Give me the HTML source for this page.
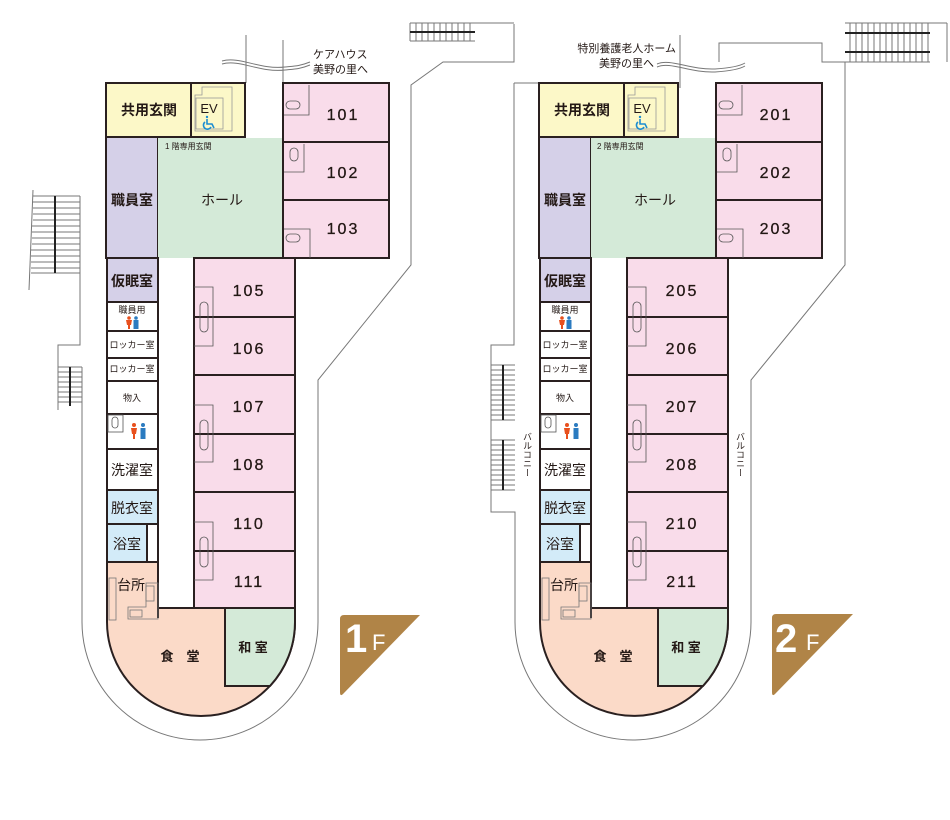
<!DOCTYPE html>
<html><head><meta charset="utf-8"><style>
html,body{margin:0;padding:0;background:#fff;}
svg{display:block;}
text{font-family:"Liberation Sans","Noto Sans CJK JP",sans-serif;fill:#231815;}
.rm{font-size:16px;letter-spacing:2px;text-anchor:middle;stroke:#231815;stroke-width:0.3;}
.jp{font-size:14px;font-weight:bold;text-anchor:middle;}
.sm{font-size:9px;text-anchor:middle;}
.o{fill:none;stroke:#777;stroke-width:1;}
.w{stroke:#2a2020;stroke-width:2;}
.st{stroke:#777;stroke-width:1;}
.wc{fill:none;stroke:#1d8ed1;stroke-width:1.6;}
</style></head><body>
<svg width="950" height="820" viewBox="0 0 950 820" xmlns="http://www.w3.org/2000/svg">

<!-- ========== 1F ========== -->
<g>
<path class="o" d="M33,190 L29,290"/>
<path class="o" d="M80,196 V345 H58 V410"/>
<g class="st">
<line x1="33" y1="196" x2="80" y2="196"/><line x1="33" y1="202" x2="80" y2="202"/><line x1="33" y1="208" x2="80" y2="208"/><line x1="33" y1="214" x2="80" y2="214"/><line x1="33" y1="220" x2="80" y2="220"/><line x1="32" y1="226" x2="80" y2="226"/><line x1="32" y1="232" x2="80" y2="232"/><line x1="32" y1="238" x2="80" y2="238"/><line x1="32" y1="244" x2="80" y2="244"/><line x1="31" y1="250" x2="80" y2="250"/><line x1="31" y1="256" x2="80" y2="256"/><line x1="31" y1="262" x2="80" y2="262"/><line x1="31" y1="268" x2="80" y2="268"/><line x1="31" y1="273" x2="80" y2="273"/>
<line x1="58" y1="367" x2="82" y2="367"/><line x1="58" y1="372" x2="82" y2="372"/><line x1="58" y1="377" x2="82" y2="377"/><line x1="58" y1="382" x2="82" y2="382"/><line x1="58" y1="387" x2="82" y2="387"/><line x1="58" y1="392" x2="82" y2="392"/><line x1="58" y1="397" x2="82" y2="397"/><line x1="58" y1="402" x2="82" y2="402"/>
</g>
<line x1="55" y1="196" x2="55" y2="273" stroke="#222" stroke-width="2"/>
<line x1="70" y1="367" x2="70" y2="406" stroke="#222" stroke-width="2"/>
<path class="o" d="M82,367 V622 A118,118 0 0 0 318,622 V380 L411,265 V85 L443,62 H514 V24"/>
<g class="st">
<line x1="410" y1="23" x2="475" y2="23"/><line x1="410" y1="41" x2="475" y2="41"/>
<line x1="410" y1="23" x2="410" y2="41"/><line x1="416" y1="23" x2="416" y2="41"/><line x1="422" y1="23" x2="422" y2="41"/><line x1="428" y1="23" x2="428" y2="41"/><line x1="434" y1="23" x2="434" y2="41"/><line x1="440" y1="23" x2="440" y2="41"/><line x1="446" y1="23" x2="446" y2="41"/><line x1="452" y1="23" x2="452" y2="41"/><line x1="458" y1="23" x2="458" y2="41"/><line x1="464" y1="23" x2="464" y2="41"/><line x1="470" y1="23" x2="470" y2="41"/><line x1="475" y1="23" x2="514" y2="23"/>
</g>
<line x1="410" y1="32" x2="475" y2="32" stroke="#222" stroke-width="2"/>
<line class="o" x1="246" y1="35" x2="246" y2="83"/>
<line class="o" x1="283" y1="40" x2="283" y2="83"/>
<path class="o" d="M222,61 C240,56 260,70 285,67 C295,66 300,66 310,62"/>
<path class="o" d="M222,64 C240,59 260,73 285,70 C295,69 300,69 310,65"/>
<text x="313" y="58" style="font-size:11px">ケアハウス</text>
<text x="313" y="73" style="font-size:11px">美野の里へ</text>

<rect x="106" y="83" width="85" height="54" fill="#fcf8c8" class="w"/>
<rect x="191" y="83" width="54" height="54" fill="#fcf8c8" class="w"/>
<path d="M202,87 H232 V131 H195 V95 H202 Z" fill="none" stroke="#999" stroke-width="0.8"/>
<rect x="196" y="98" width="27" height="31" fill="none" stroke="#999" stroke-width="0.8"/>
<text x="209" y="113" style="font-size:13px;text-anchor:middle">EV</text>
<g class="wc"><circle cx="207" cy="117" r="1.2" fill="#1d8ed1" stroke="none"/><path d="M207,119 V124 H212 L214,128"/><path d="M205,122 A4,4 0 1 0 211,127"/></g>
<text class="jp" x="149" y="115">共用玄関</text>
<rect x="106" y="137" width="52" height="121" fill="#d5d0e8" class="w"/>
<text class="jp" x="132" y="205">職員室</text>
<rect x="158" y="138" width="125" height="120" fill="#d4ead8"/>
<text x="165" y="149" style="font-size:8px">1 階専用玄関</text>
<text class="jp" x="222" y="205" style="font-weight:normal">ホール</text>
<g fill="#f9dcea" class="w">
<rect x="283" y="83" width="106" height="59"/><rect x="283" y="142" width="106" height="58"/><rect x="283" y="200" width="106" height="58"/>
</g>
<g fill="none" stroke="#555" stroke-width="0.8"><path d="M284,115 H309 V85"/><path d="M284,172 H304 V144"/><path d="M284,229 H310 V258"/>
<rect x="286" y="101" width="14" height="8" rx="4"/><rect x="290" y="148" width="8" height="13" rx="4"/><rect x="286" y="234" width="14" height="8" rx="4"/></g>
<text class="rm" x="343" y="120">101</text><text class="rm" x="343" y="178">102</text><text class="rm" x="343" y="234">103</text>

<g fill="#f9dcea" class="w">
<rect x="194" y="258" width="101" height="59"/><rect x="194" y="317" width="101" height="58"/><rect x="194" y="375" width="101" height="59"/><rect x="194" y="434" width="101" height="58"/><rect x="194" y="492" width="101" height="59"/><rect x="194" y="551" width="101" height="57"/>
</g>
<g fill="none" stroke="#555" stroke-width="0.8"><path d="M194,287 H213 V346 H194"/><path d="M194,405 H213 V462 H194"/><path d="M194,522 H213 V580 H194"/>
<rect x="200" y="302" width="8" height="30" rx="4"/><rect x="200" y="420" width="8" height="30" rx="4"/><rect x="200" y="537" width="8" height="30" rx="4"/></g>
<text class="rm" x="249" y="296">105</text><text class="rm" x="249" y="354">106</text><text class="rm" x="249" y="412">107</text><text class="rm" x="249" y="470">108</text><text class="rm" x="249" y="529">110</text><text class="rm" x="249" y="587">111</text>

<rect x="107" y="258" width="51" height="44" fill="#d5d0e8" class="w"/>
<text class="jp" x="132" y="286">仮眠室</text>
<g fill="#fff" class="w">
<rect x="107" y="302" width="51" height="29"/><rect x="107" y="331" width="51" height="27"/><rect x="107" y="358" width="51" height="23"/><rect x="107" y="381" width="51" height="33"/><rect x="107" y="414" width="51" height="35"/><rect x="107" y="449" width="51" height="41"/>
</g>
<text class="sm" x="132" y="313">職員用</text>
<g><circle cx="129" cy="318" r="1.8" fill="#e8501e"/><path d="M126,320 h6 l-1,5 h-1 v4 h-2 v-4 h-1 z" fill="#e8501e"/><circle cx="136" cy="318" r="1.8" fill="#2b7bc0"/><rect x="133.5" y="320" width="5" height="9" fill="#2b7bc0"/></g>
<text class="sm" x="132" y="348">ロッカー室</text>
<text class="sm" x="132" y="372">ロッカー室</text>
<text class="sm" x="132" y="401">物入</text>
<rect x="108" y="415" width="15" height="17" fill="none" stroke="#555" stroke-width="0.8"/><rect x="112" y="417" width="6" height="11" rx="3" fill="none" stroke="#555" stroke-width="0.8"/>
<g><circle cx="134" cy="425" r="2" fill="#e8501e"/><path d="M131,428 h6 l-1,6 h-1 v5 h-2 v-5 h-1 z" fill="#e8501e"/><circle cx="143" cy="425" r="2" fill="#2b7bc0"/><rect x="140.5" y="428" width="5" height="11" fill="#2b7bc0"/></g>
<text class="jp" x="132" y="475" style="font-weight:normal">洗濯室</text>
<rect x="107" y="490" width="51" height="34" fill="#d3ebf8" class="w"/>
<text class="jp" x="132" y="513" style="font-weight:normal">脱衣室</text>
<rect x="107" y="524" width="40" height="38" fill="#d3ebf8" class="w"/>
<rect x="147" y="524" width="11" height="38" fill="#fff" class="w"/>
<text class="jp" x="127" y="549" style="font-weight:normal">浴室</text>
<path d="M107,562 H158 V608 H295 V622 A94,94 0 0 1 107,622 Z" fill="#fbdac8" class="w"/>
<line x1="158" y1="562" x2="158" y2="618" stroke="#2a2020" stroke-width="2"/>
<path d="M225,608 H295 V622 A94,94 0 0 1 270,686 H225 Z" fill="#d4ead8" class="w"/>
<g fill="none" stroke="#777" stroke-width="0.8"><rect x="109" y="578" width="7" height="42"/><path d="M128,619 V607 H146 V583 H158 V619 Z"/><rect x="146" y="586" width="8" height="15"/><rect x="130" y="610" width="12" height="7"/></g>
<text class="jp" x="131" y="590" style="font-weight:normal">台所</text>
<text class="jp" x="180" y="661" style="font-size:13px">食　堂</text>
<text class="jp" x="253" y="652" style="font-size:13px">和 室</text>
<path d="M344,615 H420 L343,694 Q340,697 340,692 V619 Q340,615 344,615 Z" fill="#b08447"/>
<text x="345" y="652" style="font-size:40px;font-weight:bold;fill:#fff">1</text>
<text x="372" y="650" style="font-size:22px;fill:#fff">F</text>
</g>

<!-- ========== 2F ========== -->
<g>
<path class="o" d="M514,83 H539"/>
<path class="o" d="M514,83 V345 H491 V512 H515 V622 A118,118 0 0 0 751,622 V380 L845,265 V62 H822 V43 H719 V62"/>
<g class="st">
<line x1="491" y1="365" x2="515" y2="365"/><line x1="491" y1="370" x2="515" y2="370"/><line x1="491" y1="375" x2="515" y2="375"/><line x1="491" y1="380" x2="515" y2="380"/><line x1="491" y1="385" x2="515" y2="385"/><line x1="491" y1="390" x2="515" y2="390"/><line x1="491" y1="395" x2="515" y2="395"/><line x1="491" y1="400" x2="515" y2="400"/><line x1="491" y1="405" x2="515" y2="405"/><line x1="491" y1="410" x2="515" y2="410"/><line x1="491" y1="415" x2="515" y2="415"/><line x1="491" y1="420" x2="515" y2="420"/>
<line x1="491" y1="440" x2="515" y2="440"/><line x1="491" y1="445" x2="515" y2="445"/><line x1="491" y1="450" x2="515" y2="450"/><line x1="491" y1="455" x2="515" y2="455"/><line x1="491" y1="460" x2="515" y2="460"/><line x1="491" y1="465" x2="515" y2="465"/><line x1="491" y1="470" x2="515" y2="470"/><line x1="491" y1="475" x2="515" y2="475"/><line x1="491" y1="480" x2="515" y2="480"/><line x1="491" y1="485" x2="515" y2="485"/><line x1="491" y1="490" x2="515" y2="490"/>
<line x1="845" y1="23" x2="930" y2="23"/><line x1="845" y1="62" x2="930" y2="62"/><line x1="930" y1="23" x2="947" y2="23"/><line x1="947" y1="23" x2="947" y2="62"/>
</g>
<g class="st">
<line x1="850" y1="23" x2="850" y2="62"/><line x1="856" y1="23" x2="856" y2="62"/><line x1="862" y1="23" x2="862" y2="62"/><line x1="868" y1="23" x2="868" y2="62"/><line x1="874" y1="23" x2="874" y2="62"/><line x1="880" y1="23" x2="880" y2="62"/><line x1="886" y1="23" x2="886" y2="62"/><line x1="892" y1="23" x2="892" y2="62"/><line x1="898" y1="23" x2="898" y2="62"/><line x1="904" y1="23" x2="904" y2="62"/><line x1="910" y1="23" x2="910" y2="62"/><line x1="916" y1="23" x2="916" y2="62"/><line x1="922" y1="23" x2="922" y2="62"/><line x1="928" y1="23" x2="928" y2="62"/>
</g>
<line x1="845" y1="33" x2="930" y2="33" stroke="#222" stroke-width="2"/><line x1="845" y1="52" x2="930" y2="52" stroke="#222" stroke-width="2"/>
<line x1="503" y1="365" x2="503" y2="420" stroke="#222" stroke-width="2"/><line x1="503" y1="440" x2="503" y2="490" stroke="#222" stroke-width="2"/>
<text x="527" y="432" style="font-size:9px;writing-mode:tb">バルコニー</text>
<text x="740" y="432" style="font-size:9px;writing-mode:tb">バルコニー</text>
<line class="o" x1="680" y1="35" x2="680" y2="88"/>
<path class="o" d="M657,64 C670,58 690,70 715,69 C730,68 740,66 745,63"/>
<path class="o" d="M657,67 C670,61 690,73 715,72 C730,71 740,69 745,66"/>
<text x="676" y="52" style="font-size:11px;text-anchor:end">特別養護老人ホーム</text>
<text x="654" y="67" style="font-size:11px;text-anchor:end">美野の里へ</text>

<rect x="539" y="83" width="85" height="54" fill="#fcf8c8" class="w"/>
<rect x="624" y="83" width="54" height="54" fill="#fcf8c8" class="w"/>
<path d="M635,87 H665 V131 H628 V95 H635 Z" fill="none" stroke="#999" stroke-width="0.8"/>
<rect x="629" y="98" width="27" height="31" fill="none" stroke="#999" stroke-width="0.8"/>
<text x="642" y="113" style="font-size:13px;text-anchor:middle">EV</text>
<g class="wc"><circle cx="640" cy="117" r="1.2" fill="#1d8ed1" stroke="none"/><path d="M640,119 V124 H645 L647,128"/><path d="M638,122 A4,4 0 1 0 644,127"/></g>
<text class="jp" x="582" y="115">共用玄関</text>
<rect x="539" y="137" width="52" height="121" fill="#d5d0e8" class="w"/>
<text class="jp" x="565" y="205">職員室</text>
<rect x="591" y="138" width="125" height="120" fill="#d4ead8"/>
<text x="597" y="149" style="font-size:8px">2 階専用玄関</text>
<text class="jp" x="655" y="205" style="font-weight:normal">ホール</text>
<g fill="#f9dcea" class="w">
<rect x="716" y="83" width="106" height="59"/><rect x="716" y="142" width="106" height="58"/><rect x="716" y="200" width="106" height="58"/>
</g>
<g fill="none" stroke="#555" stroke-width="0.8"><path d="M717,115 H742 V85"/><path d="M717,172 H737 V144"/><path d="M717,229 H743 V258"/>
<rect x="719" y="101" width="14" height="8" rx="4"/><rect x="723" y="148" width="8" height="13" rx="4"/><rect x="719" y="234" width="14" height="8" rx="4"/></g>
<text class="rm" x="776" y="120">201</text><text class="rm" x="776" y="178">202</text><text class="rm" x="776" y="234">203</text>

<g fill="#f9dcea" class="w">
<rect x="627" y="258" width="101" height="59"/><rect x="627" y="317" width="101" height="58"/><rect x="627" y="375" width="101" height="59"/><rect x="627" y="434" width="101" height="58"/><rect x="627" y="492" width="101" height="59"/><rect x="627" y="551" width="101" height="57"/>
</g>
<g fill="none" stroke="#555" stroke-width="0.8"><path d="M627,287 H646 V346 H627"/><path d="M627,405 H646 V462 H627"/><path d="M627,522 H646 V580 H627"/>
<rect x="633" y="302" width="8" height="30" rx="4"/><rect x="633" y="420" width="8" height="30" rx="4"/><rect x="633" y="537" width="8" height="30" rx="4"/></g>
<text class="rm" x="682" y="296">205</text><text class="rm" x="682" y="354">206</text><text class="rm" x="682" y="412">207</text><text class="rm" x="682" y="470">208</text><text class="rm" x="682" y="529">210</text><text class="rm" x="682" y="587">211</text>

<rect x="540" y="258" width="51" height="44" fill="#d5d0e8" class="w"/>
<text class="jp" x="565" y="286">仮眠室</text>
<g fill="#fff" class="w">
<rect x="540" y="302" width="51" height="29"/><rect x="540" y="331" width="51" height="27"/><rect x="540" y="358" width="51" height="23"/><rect x="540" y="381" width="51" height="33"/><rect x="540" y="414" width="51" height="35"/><rect x="540" y="449" width="51" height="41"/>
</g>
<text class="sm" x="565" y="313">職員用</text>
<g><circle cx="562" cy="318" r="1.8" fill="#e8501e"/><path d="M559,320 h6 l-1,5 h-1 v4 h-2 v-4 h-1 z" fill="#e8501e"/><circle cx="569" cy="318" r="1.8" fill="#2b7bc0"/><rect x="566.5" y="320" width="5" height="9" fill="#2b7bc0"/></g>
<text class="sm" x="565" y="348">ロッカー室</text>
<text class="sm" x="565" y="372">ロッカー室</text>
<text class="sm" x="565" y="401">物入</text>
<rect x="541" y="415" width="15" height="17" fill="none" stroke="#555" stroke-width="0.8"/><rect x="545" y="417" width="6" height="11" rx="3" fill="none" stroke="#555" stroke-width="0.8"/>
<g><circle cx="567" cy="425" r="2" fill="#e8501e"/><path d="M564,428 h6 l-1,6 h-1 v5 h-2 v-5 h-1 z" fill="#e8501e"/><circle cx="576" cy="425" r="2" fill="#2b7bc0"/><rect x="573.5" y="428" width="5" height="11" fill="#2b7bc0"/></g>
<text class="jp" x="565" y="475" style="font-weight:normal">洗濯室</text>
<rect x="540" y="490" width="51" height="34" fill="#d3ebf8" class="w"/>
<text class="jp" x="565" y="513" style="font-weight:normal">脱衣室</text>
<rect x="540" y="524" width="40" height="38" fill="#d3ebf8" class="w"/>
<rect x="580" y="524" width="11" height="38" fill="#fff" class="w"/>
<text class="jp" x="560" y="549" style="font-weight:normal">浴室</text>
<path d="M540,562 H591 V608 H728 V622 A94,94 0 0 1 540,622 Z" fill="#fbdac8" class="w"/>
<line x1="591" y1="562" x2="591" y2="618" stroke="#2a2020" stroke-width="2"/>
<path d="M658,608 H728 V622 A94,94 0 0 1 703,686 H658 Z" fill="#d4ead8" class="w"/>
<g fill="none" stroke="#777" stroke-width="0.8"><rect x="542" y="578" width="7" height="42"/><path d="M561,619 V607 H579 V583 H591 V619 Z"/><rect x="579" y="586" width="8" height="15"/><rect x="563" y="610" width="12" height="7"/></g>
<text class="jp" x="564" y="590" style="font-weight:normal">台所</text>
<text class="jp" x="613" y="661" style="font-size:13px">食　堂</text>
<text class="jp" x="686" y="652" style="font-size:13px">和 室</text>
<path d="M776,614 H853 L775,694 Q772,697 772,692 V618 Q772,614 776,614 Z" fill="#b08447"/>
<text x="775" y="652" style="font-size:40px;font-weight:bold;fill:#fff">2</text>
<text x="806" y="650" style="font-size:22px;fill:#fff">F</text>
</g>
</svg>
</body></html>
